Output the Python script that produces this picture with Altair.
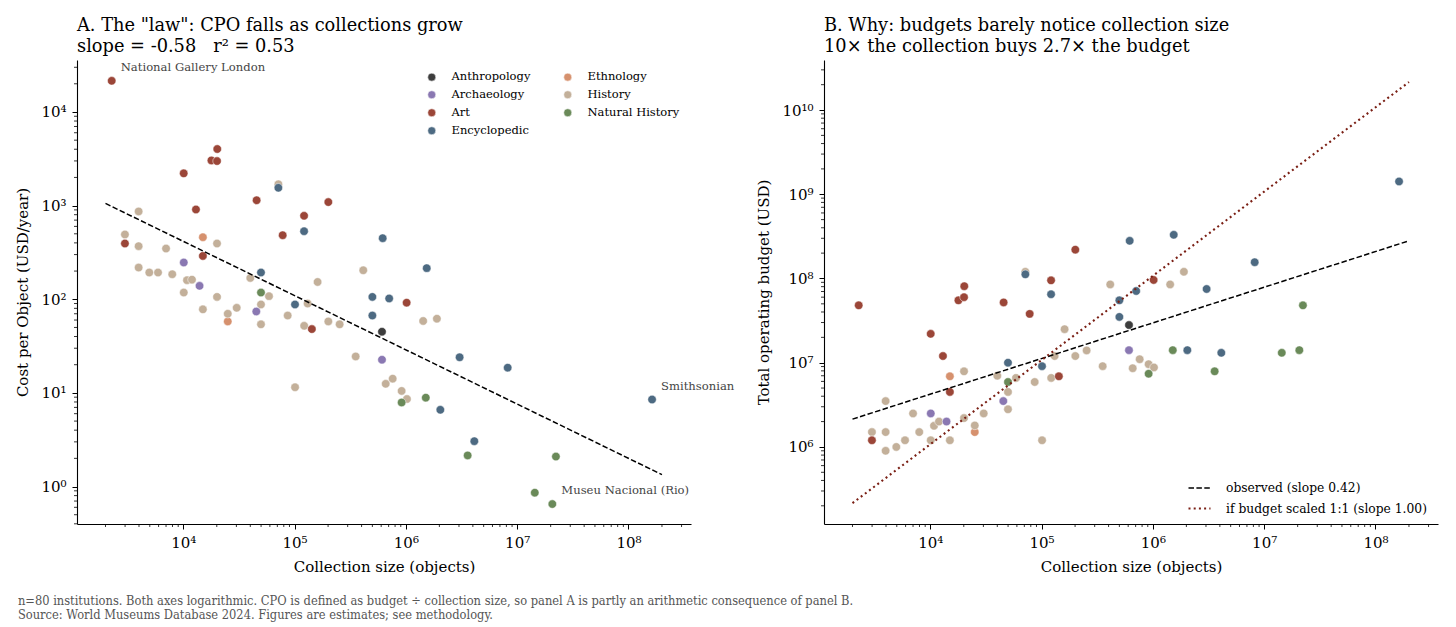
import altair as alt
import pandas as pd

# ---------------- data ----------------
categories = ["Anthropology", "Archaeology", "Art", "Encyclopedic",
              "Ethnology", "History", "Natural History"]
category_colors = ["#3d3d3d", "#8a78b2", "#9b4638", "#4d6a82",
                   "#d6916e", "#c3b09a", "#6a8a59"]

ethnology_collection = [15000, 25100]
ethnology_cpo = [460, 58]
ethnology_budget = [6.9e6, 1.5e6]

history_collection = [3970, 2990, 3970, 7000, 20100, 3970, 4950, 5930, 7960,
                      10800, 11970, 40000, 161000, 414000, 58900, 10100, 20100,
                      15000, 25100, 30200, 49900, 49900, 131000, 86700, 122000,
                      201000, 254000, 354000, 1430000, 101000, 659000, 761000,
                      916000, 1023000, 1900000, 71500]
history_cpo = [867, 492, 369, 348, 394, 218, 193, 193, 185, 160, 162, 169, 153,
               204, 108, 118, 106, 78, 70, 81, 88, 54, 90, 67, 52, 58, 54, 24.5,
               58.6, 11.5, 12.5, 14.2, 10.5, 8.6, 62, 1690]
history_budget = [3.5e6, 1.5e6, 1.5e6, 2.5e6, 7.9e6, 9.0e5, 1.0e6, 1.2e6, 1.5e6,
                  1.78e6, 2.0e6, 7.0e6, 2.5e7, 8.5e7, 6.6e6, 1.2e6, 2.2e6, 1.2e6,
                  1.8e6, 2.5e6, 4.5e6, 2.8e6, 1.2e7, 5.9e6, 6.6e6, 1.2e7, 1.4e7,
                  9.1e6, 8.5e7, 1.2e6, 8.6e6, 1.1e7, 9.6e6, 8.8e6, 1.2e8, 1.2e8]

archaeology_collection = [10100, 14000, 45300, 610000]
archaeology_cpo = [247, 139, 74, 22.6]
archaeology_budget = [2.5e6, 2.0e6, 3.5e6, 1.41e7]

anthropology_collection = [610000]
anthropology_cpo = [45]
anthropology_budget = [2.8e7]

natural_collection = [49900, 916000, 1510000, 3590000, 22300000, 14400000, 20700000]
natural_cpo = [118, 7.9, 8.9, 2.15, 2.09, 0.86, 0.65]
natural_budget = [5.9e6, 7.4e6, 1.41e7, 7.9e6, 4.8e7, 1.31e7, 1.41e7]

art_collection = [2275, 20200, 17900, 20100, 10090, 13000, 45600, 121700,
                  201000, 78200, 2990, 15000, 1016000, 143000]
art_cpo = [21500, 4020, 3040, 2990, 2210, 910, 1140, 778, 1090, 483, 394, 290, 92, 48]
art_budget = [4.8e7, 8.1e7, 5.5e7, 6.0e7, 2.2e7, 1.2e7, 5.2e7, 9.5e7, 2.2e8,
              3.8e7, 1.2e6, 4.5e6, 9.6e7, 6.9e6]

ency_collection = [71500, 121700, 619000, 49900, 500000, 708000, 1540000, 100900,
                   500000, 3040000, 8220000, 2040000, 4120000, 163000000]
ency_cpo = [1550, 533, 449, 193, 106, 102, 215, 88, 67, 24, 18.6, 6.6, 3.05, 8.5]
ency_budget = [1.12e8, 6.5e7, 2.8e8, 1.0e7, 5.5e7, 7.1e7, 3.3e8, 9.1e6, 3.5e7,
               7.5e7, 1.56e8, 1.41e7, 1.31e7, 1.42e9]

annot_names = ["National Gallery London", "Smithsonian", "Museu Nacional (Rio)"]
annot_collection = [2275, 163000000, 20700000]
annot_cpo = [21500, 8.5, 0.65]

fit_collection = [2000, 2.0e8]
fit_cpo = [1055, 1.34]
series_names = ["observed (slope 0.42)", "if budget scaled 1:1 (slope 1.00)"]
observed_budget = [2.14e6, 2.8e8]
scaled_budget = [2.15e5, 2.15e10]

x_major = [1e4, 1e5, 1e6, 1e7, 1e8]
cpo_major = [1, 10, 100, 1000, 10000]
budget_major = [1e6, 1e7, 1e8, 1e9, 1e10]

footnote = ["n=80 institutions. Both axes logarithmic. CPO is defined as budget \u00f7 collection size, so panel A is partly an arithmetic consequence of panel B.",
            "Source: World Museums Database 2024. Figures are estimates; see methodology."]

# ---------------- tables ----------------
groups = [
    ("Ethnology", ethnology_collection, ethnology_cpo, ethnology_budget),
    ("History", history_collection, history_cpo, history_budget),
    ("Archaeology", archaeology_collection, archaeology_cpo, archaeology_budget),
    ("Anthropology", anthropology_collection, anthropology_cpo, anthropology_budget),
    ("Natural History", natural_collection, natural_cpo, natural_budget),
    ("Art", art_collection, art_cpo, art_budget),
    ("Encyclopedic", ency_collection, ency_cpo, ency_budget),
]
rows = []
for cat, cs, cp, bu in groups:
    for c, p, b in zip(cs, cp, bu):
        rows.append({"category": cat, "collection": c, "cpo": p, "budget": b})
pts = pd.DataFrame(rows)
pts["order"] = range(len(pts))

annot = pd.DataFrame({"name": annot_names, "collection": annot_collection, "cpo": annot_cpo})
fitA = pd.DataFrame({"collection": fit_collection, "cpo": fit_cpo})
fitB = pd.DataFrame({
    "series": [series_names[0]] * 2 + [series_names[1]] * 2,
    "collection": fit_collection * 2,
    "budget": observed_budget + scaled_budget,
})

XD = [10 ** 3.045, 10 ** 8.562]
YA = [10 ** -0.40, 10 ** 4.555]
YB = [10 ** 5.085, 10 ** 10.594]


def minors(lo, hi):
    out = []
    for k in range(-2, 12):
        for m in range(2, 10):
            v = m * 10.0 ** k
            if lo <= v <= hi:
                out.append(v)
    return out


W, H = 614, 464
sup = "['\u2070','\u00b9','\u00b2','\u00b3','\u2074','\u2075','\u2076','\u2077','\u2078','\u2079','\u00b9\u2070']"
label_expr = "'10' + " + sup + "[round(log(datum.value)/LN10)]"

fill_scale = alt.Scale(domain=categories, range=category_colors)


def xenc():
    return alt.X("collection:Q", scale=alt.Scale(type="log", domain=XD, nice=False),
                 axis=alt.Axis(values=x_major, labelExpr=label_expr, tickSize=5,
                               labelPadding=6, titlePadding=9, labelFlush=False),
                 title="Collection size (objects)")


def yenc(field, dom, vals, tp, title):
    return alt.Y(field + ":Q", scale=alt.Scale(type="log", domain=dom, nice=False),
                 axis=alt.Axis(values=vals, labelExpr=label_expr, tickSize=5,
                               labelPadding=6, titlePadding=tp, labelFlush=False),
                 title=title)


def minor_layers(yfield, ydom, yvals, tp, ytitle):
    mx = alt.Chart(pd.DataFrame({"collection": minors(*XD)})).mark_rule(
        color="black", strokeWidth=0.8).encode(
        x=xenc(), y=alt.value(H), y2=alt.value(H + 3))
    my = alt.Chart(pd.DataFrame({yfield: minors(*ydom)})).mark_rule(
        color="black", strokeWidth=0.8).encode(
        y=yenc(yfield, ydom, yvals, tp, ytitle), x=alt.value(0), x2=alt.value(-3))
    return mx, my


# ---------------- panel A ----------------
yA_title = "Cost per Object (USD/year)"
xA = xenc()
yA = yenc("cpo", YA, cpo_major, 10, yA_title)

ptsA = alt.Chart(pts).mark_point(filled=True, size=72, opacity=1, stroke="white",
                                 strokeWidth=0.5).encode(
    x=xA, y=yA,
    fill=alt.Fill("category:N", scale=fill_scale,
                  legend=alt.Legend(title=None, orient="none", legendX=349, legendY=11,
                                    columns=2, columnPadding=31, rowPadding=5,
                                    symbolType="circle", symbolSize=64,
                                    symbolStrokeColor="white", symbolStrokeWidth=0.5,
                                    labelFontSize=11.5, labelOffset=14, labelColor="black",
                                    padding=0)),
    order=alt.Order("order:Q"))

lineA = alt.Chart(fitA).mark_line(color="black", strokeDash=[5.5, 2.4], strokeWidth=1.5).encode(
    x=xA, y=yA)

textA = alt.Chart(annot).mark_text(align="left", baseline="middle", dx=9, dy=-13,
                                   fontSize=11.6, color="#444").encode(
    x=xA, y=yA, text="name:N")

mxA, myA = minor_layers("cpo", YA, cpo_major, 10, yA_title)

panelA = alt.layer(ptsA, lineA, textA, mxA, myA).properties(
    width=W, height=H,
    title=alt.TitleParams(
        text=['A. The "law": CPO falls as collections grow',
              "slope = -0.58\u00a0\u00a0\u00a0r\u00b2 = 0.53"],
        anchor="start", frame="group", fontSize=17.8, lineHeight=21, offset=4))

# ---------------- panel B ----------------
yB_title = "Total operating budget (USD)"
xB = xenc()
yB = yenc("budget", YB, budget_major, 10, yB_title)

ptsB = alt.Chart(pts).mark_point(filled=True, size=72, opacity=1, stroke="white",
                                 strokeWidth=0.5).encode(
    x=xB, y=yB,
    fill=alt.Fill("category:N", scale=fill_scale, legend=None),
    order=alt.Order("order:Q"))

legB = alt.Legend(title=None, orient="none", legendX=363, legendY=416,
                  symbolType="stroke", symbolSize=484, symbolStrokeWidth=1.8,
                  labelFontSize=12.3, labelOffset=14, rowPadding=1, labelLimit=400,
                  labelColor="black", padding=0)
lineB = alt.Chart(fitB).mark_line().encode(
    x=xB, y=yB,
    stroke=alt.Stroke("series:N", scale=alt.Scale(domain=series_names, range=["#000000", "#7a1f14"]),
                      legend=legB),
    strokeDash=alt.StrokeDash("series:N", scale=alt.Scale(domain=series_names,
                                                          range=[[5.5, 2.4], [2, 3.2]]),
                              legend=legB),
    strokeWidth=alt.StrokeWidth("series:N", scale=alt.Scale(domain=series_names, range=[1.5, 2.1]),
                                legend=legB),
    detail="series:N")

mxB, myB = minor_layers("budget", YB, budget_major, 10, yB_title)

panelB = alt.layer(ptsB, lineB, mxB, myB).properties(
    width=W, height=H,
    title=alt.TitleParams(
        text=["B. Why: budgets barely notice collection size",
              "10\u00d7 the collection buys 2.7\u00d7 the budget"],
        anchor="start", frame="group", fontSize=17.8, lineHeight=21, offset=4))

chart = alt.hconcat(panelA, panelB, spacing=133, bounds="flush").resolve_scale(
    fill="independent", stroke="independent", strokeDash="independent",
    strokeWidth="independent"
).resolve_legend(
    fill="independent", stroke="independent", strokeDash="independent",
    strokeWidth="independent"
).properties(
    padding={"left": 7, "top": 9, "right": 5, "bottom": 5},
    title=alt.TitleParams(text=footnote, orient="bottom", anchor="start", fontSize=12.75,
                          color="#555555", font="DejaVu Serif Condensed, DejaVu Serif",
                          fontWeight="normal", offset=21, lineHeight=14, dx=2)
).configure(font="DejaVu Serif").configure_view(stroke=None).configure_axis(
    domainColor="black", domainWidth=1.1, tickColor="black", tickWidth=1,
    labelColor="black", titleColor="black", labelFontSize=15, titleFontSize=15,
    titleFontWeight="normal", grid=False, labelFont="DejaVu Serif", titleFont="DejaVu Serif"
).configure_title(fontWeight="normal", color="black", font="DejaVu Serif")

chart.save("out.html", embed_options={"renderer": "svg", "actions": False})
